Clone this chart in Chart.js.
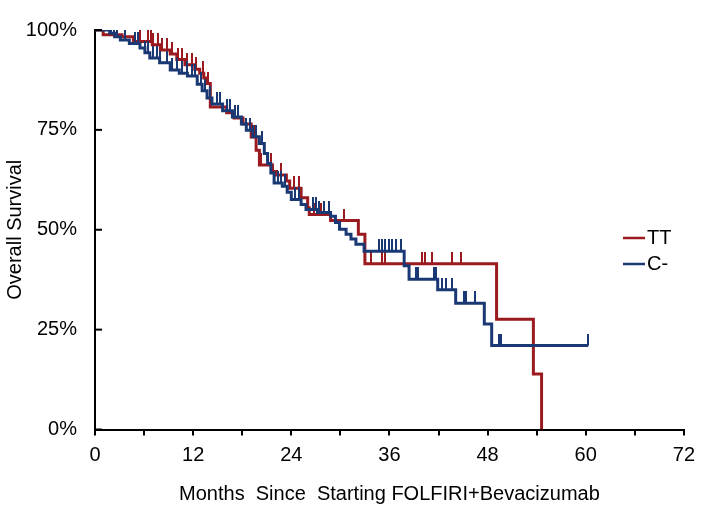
<!DOCTYPE html>
<html>
<head>
<meta charset="utf-8">
<script src="https://cdn.jsdelivr.net/npm/chart.js@4.4.0/dist/chart.umd.min.js"></script>
<style>
  html, body { margin: 0; padding: 0; background: #fff; }
</style>
</head>
<body>
<canvas id="kmChart" width="703" height="514"></canvas>
<script>
// Kaplan-Meier steps: month of each drop and survival (%) right after it
const ttTimes = [0, 1.0, 3.3, 4.7, 7.0, 8.0, 9.2, 10.0, 11.0, 12.2, 12.8, 13.3, 13.7, 14.1, 16.1, 17.0, 18.1, 19.1, 19.7, 20.1, 21.7, 22.2, 23.4, 23.8, 25.2, 26.0, 26.2, 28.8, 32.2, 33.0, 49.1, 53.6, 54.6];
const ttSurv = [100, 98.8, 98.3, 97.1, 96.3, 95.0, 94.0, 92.6, 91.3, 90.2, 89.2, 88.0, 86.6, 80.7, 79.3, 78.0, 76.5, 73.2, 69.9, 66.2, 64.6, 63.7, 62.2, 60.4, 58.0, 55.5, 53.8, 52.3, 48.9, 41.5, 27.6, 13.9, 0];
const ttCensored = [5.5, 6.5, 6.9, 7.1, 7.7, 8.2, 8.8, 9.4, 10.2, 10.6, 11.2, 11.8, 12.4, 13.2, 13.8, 16.5, 17.5, 19.5, 20.3, 21.1, 21.5, 22.8, 24.3, 25.0, 26.8, 27.6, 30.5, 33.7, 35.1, 35.5, 40.0, 40.3, 41.2, 43.6, 44.7];

const cTimes = [0, 1.8, 2.4, 3.1, 4.2, 5.5, 6.1, 6.7, 7.9, 9.2, 10.3, 11.3, 12.5, 13.1, 13.7, 14.3, 15.6, 16.8, 17.9, 18.5, 19.3, 20.1, 20.7, 21.1, 21.5, 21.9, 22.9, 23.5, 24.0, 25.2, 25.8, 27.2, 28.8, 29.4, 29.9, 30.7, 31.3, 31.9, 32.9, 37.8, 38.4, 41.9, 44.1, 47.6, 48.5, 60.3];
const cSurv = [100, 99.2, 98.3, 97.5, 96.6, 95.5, 94.3, 93.0, 91.8, 90.0, 89.2, 88.5, 86.4, 84.8, 83.0, 81.5, 79.8, 78.2, 76.5, 74.9, 73.3, 71.6, 69.1, 66.6, 64.2, 61.7, 60.9, 59.4, 57.6, 56.3, 55.1, 54.3, 53.4, 51.8, 50.1, 48.9, 47.7, 46.4, 44.6, 41.0, 37.6, 35.0, 31.6, 26.4, 21.0, 21.0];
const cCensored = [1.9, 2.3, 2.7, 3.7, 4.9, 5.3, 6.1, 6.5, 7.1, 7.6, 8.0, 8.8, 9.4, 10.0, 10.6, 11.2, 11.8, 12.2, 13.0, 13.4, 14.0, 14.9, 15.3, 16.1, 16.5, 17.1, 17.5, 18.5, 18.9, 19.3, 19.7, 20.4, 22.4, 22.8, 23.2, 24.5, 25.0, 26.6, 27.0, 27.4, 28.0, 28.6, 34.7, 35.1, 35.5, 35.9, 36.3, 36.8, 37.4, 39.2, 39.5, 41.4, 41.7, 42.4, 42.9, 43.6, 45.1, 45.4, 46.5, 49.4, 49.6, 60.3];

const seriesNames = ['TT', 'C-'];
const seriesColors = ['#9B1A1F', '#1A3874'];

// axis ticks
const xTickValues = [0, 6, 12, 18, 24, 30, 36, 42, 48, 54, 60, 66, 72];
const xLabelValues = [0, 12, 24, 36, 48, 60, 72];
const yTickValues = [0, 25, 50, 75, 100];

const FONT = { family: '"Liberation Sans", Arial, sans-serif', size: 20 };

// survival on the step curve at time t (censor marks sit on the curve)
function survivalAt(times, surv, t) {
  let s = surv[0];
  for (let i = 0; i < times.length; i++) {
    if (times[i] <= t) s = surv[i];
  }
  return s;
}

// small vertical censor mark, drawn above the point
function makeCensorMark(color) {
  const c = document.createElement('canvas');
  c.width = 2;
  c.height = 24;
  const g = c.getContext('2d');
  g.fillStyle = color;
  g.fillRect(0, 0, 2, 12);
  return c;
}

function curve(times, surv) {
  return times.map((t, i) => ({ x: t, y: surv[i] }));
}

function censorPoints(censored, times, surv) {
  return censored.map((t) => ({ x: t, y: survivalAt(times, surv, t) }));
}

// inward y ticks + legend inside plot area
const axisExtras = {
  id: 'axisExtras',
  afterDraw(chart) {
    const ctx = chart.ctx;
    const yScale = chart.scales.y;
    const left = chart.chartArea.left;
    ctx.save();
    ctx.strokeStyle = '#000';
    ctx.lineWidth = 2;
    yTickValues.forEach((v) => {
      const py = yScale.getPixelForValue(v);
      ctx.beginPath();
      ctx.moveTo(left, py);
      ctx.lineTo(left + 7, py);
      ctx.stroke();
    });

    ctx.font = FONT.size + 'px ' + FONT.family;
    ctx.textBaseline = 'middle';
    ctx.fillStyle = '#000';
    seriesNames.forEach((name, i) => {
      const ly = 238 + i * 26;
      ctx.strokeStyle = seriesColors[i];
      ctx.lineWidth = 2.5;
      ctx.beginPath();
      ctx.moveTo(623, ly);
      ctx.lineTo(645, ly);
      ctx.stroke();
      ctx.fillText(name, 647, ly);
    });
    ctx.restore();
  }
};

const ctx = document.getElementById('kmChart');
new Chart(ctx, {
  type: 'line',
  data: {
    datasets: [
      {
        label: seriesNames[1],
        data: curve(cTimes, cSurv),
        borderColor: seriesColors[1],
        borderWidth: 3,
        stepped: 'before',
        pointRadius: 0,
        fill: false,
      },
      {
        type: 'scatter',
        label: seriesNames[1] + ' censored',
        data: censorPoints(cCensored, cTimes, cSurv),
        pointStyle: makeCensorMark(seriesColors[1]),
        pointRadius: 12,
      },
      {
        label: seriesNames[0],
        data: curve(ttTimes, ttSurv),
        borderColor: seriesColors[0],
        borderWidth: 3,
        stepped: 'before',
        pointRadius: 0,
        fill: false,
      },
      {
        type: 'scatter',
        label: seriesNames[0] + ' censored',
        data: censorPoints(ttCensored, ttTimes, ttSurv),
        pointStyle: makeCensorMark(seriesColors[0]),
        pointRadius: 12,
      },
    ],
  },
  options: {
    responsive: false,
    animation: false,
    layout: { padding: { top: 25, right: 16.5, bottom: 0, left: 0 } },
    plugins: {
      legend: { display: false },
      tooltip: { enabled: false },
    },
    scales: {
      x: {
        type: 'linear',
        min: 0,
        max: 72,
        afterBuildTicks: (s) => { s.ticks = xTickValues.map((v) => ({ value: v })); },
        afterFit: (s) => { s.height = 84.5; },
        ticks: {
          autoSkip: false,
          maxRotation: 0,
          color: '#000',
          font: FONT,
          padding: 8,
          callback: (v) => (xLabelValues.includes(v) ? v : ''),
        },
        grid: { drawOnChartArea: false, drawTicks: true, tickLength: 6, color: '#000', lineWidth: 2 },
        border: { color: '#000', width: 2 },
        title: {
          display: true,
          text: 'Months  Since  Starting FOLFIRI+Bevacizumab',
          color: '#000',
          font: FONT,
          padding: { top: 0, bottom: 8 },
        },
      },
      y: {
        min: 0,
        max: 100,
        afterBuildTicks: (s) => { s.ticks = yTickValues.map((v) => ({ value: v })); },
        afterFit: (s) => { s.width = 95; },
        ticks: {
          color: '#000',
          font: FONT,
          padding: 18,
          callback: (v) => v + '%',
        },
        grid: { display: false, drawTicks: false },
        border: { color: '#000', width: 2 },
        title: {
          display: true,
          text: 'Overall Survival',
          color: '#000',
          font: FONT,
          padding: { top: 3, bottom: 0 },
        },
      },
    },
  },
  plugins: [axisExtras],
});
</script>
</body>
</html>
